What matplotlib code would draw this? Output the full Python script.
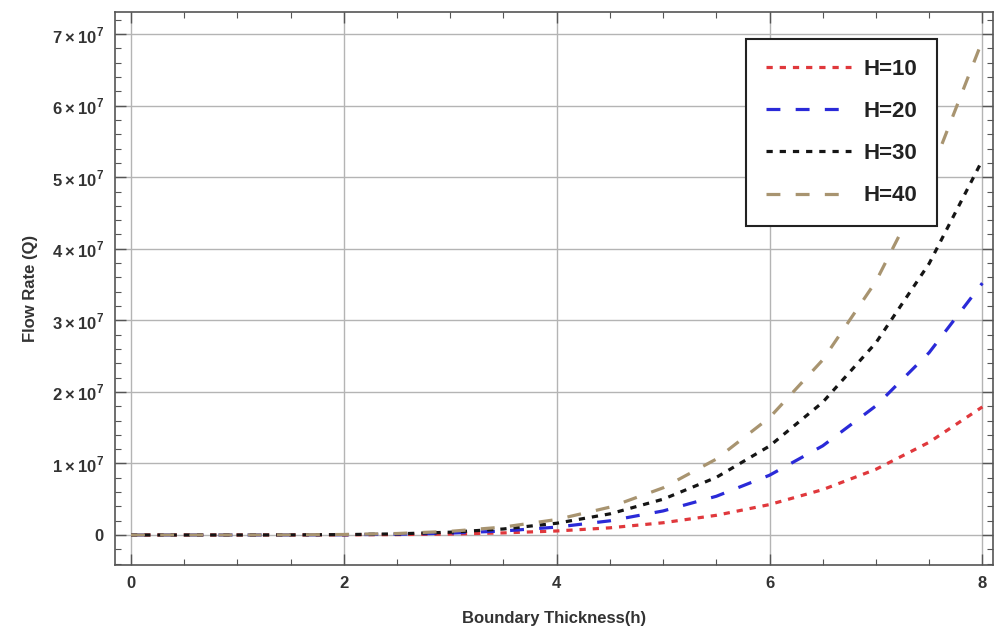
"""
Flow rate vs boundary thickness for several H values
"""

import matplotlib
matplotlib.use('Agg')
import matplotlib.pyplot as plt
from matplotlib.ticker import MultipleLocator, FuncFormatter

plt.rcParams['font.family'] = ['Liberation Sans', 'DejaVu Sans']
plt.rcParams['mathtext.fontset'] = 'custom'
plt.rcParams['mathtext.rm'] = 'Liberation Sans:bold'
plt.rcParams['mathtext.bf'] = 'Liberation Sans:bold'
plt.rcParams['lines.scale_dashes'] = False

# Boundary thickness h
h = [0, 1, 1.5, 2, 2.5, 3, 3.5, 4, 4.5, 5, 5.5, 6, 6.5, 7, 7.5, 8]

# Flow rate Q, units of 1e7
q_h10 = [0, 0.00005, 0.0004, 0.0017, 0.0053, 0.013, 0.029, 0.056, 0.10, 0.171,
         0.275, 0.425, 0.634, 0.918, 1.296, 1.79]
q_h20 = [0, 0.0001, 0.0008, 0.0034, 0.0105, 0.026, 0.056, 0.110, 0.198, 0.336,
         0.541, 0.835, 1.246, 1.805, 2.549, 3.52]
q_h30 = [0, 0.00016, 0.0012, 0.0051, 0.0156, 0.039, 0.084, 0.164, 0.295, 0.50,
         0.805, 1.243, 1.855, 2.687, 3.794, 5.24]
q_h40 = [0, 0.0002, 0.0016, 0.0067, 0.0206, 0.051, 0.111, 0.216, 0.389, 0.659,
         1.061, 1.640, 2.447, 3.545, 5.005, 6.91]

labels = ['H=10', 'H=20', 'H=30', 'H=40']
colors = ['#e0383c', '#2a2ad8', '#151515', '#a89470']
dashes = [(4.5, 5.0), (10.0, 11.0), (4.5, 5.0), (10.0, 11.0)]

fig = plt.figure(figsize=(9.96, 6.29), dpi=100)
ax = fig.add_axes([0.1155, 0.1017, 0.8815, 0.8793])

for q, lab, c, d in zip([q_h10, q_h20, q_h30, q_h40], labels, colors, dashes):
    ax.plot(h, [v * 1e7 for v in q], color=c, lw=2.3, dashes=d, label=lab)

ax.set_xlim(-0.15, 8.1)
ax.set_ylim(-0.42e7, 7.31e7)

ax.xaxis.set_major_locator(MultipleLocator(2))
ax.xaxis.set_minor_locator(MultipleLocator(0.5))
ax.yaxis.set_major_locator(MultipleLocator(1e7))
ax.yaxis.set_minor_locator(MultipleLocator(2e6))


def sci_fmt(v, pos):
    n = int(round(v / 1e7))
    if n == 0:
        return '0'
    return r'$%d\times10^{7}$' % n


ax.yaxis.set_major_formatter(FuncFormatter(sci_fmt))

ax.tick_params(which='both', direction='in', top=True, right=True,
               color='#555555', labelcolor='#333333')
ax.tick_params(which='major', length=8, width=1, labelsize=12, pad=8)
ax.tick_params(which='minor', length=4, width=0.8)
fig.canvas.draw()
for lbl in ax.get_xticklabels() + ax.get_yticklabels():
    lbl.set_fontweight('bold')

ax.grid(True, which='major', color='#b4b4b4', lw=1)
for s in ax.spines.values():
    s.set_color('#555555')
    s.set_linewidth(1.2)

ax.set_xlabel('Boundary Thickness(h)', fontsize=12, fontweight='bold',
              color='#333333', labelpad=14)
ax.set_ylabel('Flow Rate (Q)', fontsize=12, fontweight='bold',
              color='#333333', labelpad=10)

leg = ax.legend(loc='upper right', bbox_to_anchor=(0.936, 0.951),
                prop={'weight': 'bold', 'size': 16},
                handlelength=3.8, labelspacing=0.95, borderpad=0.9,
                handletextpad=0.55, borderaxespad=0, fancybox=False,
                framealpha=1)
leg.get_frame().set_edgecolor('#222222')
leg.get_frame().set_linewidth(1.5)
for t in leg.get_texts():
    t.set_color('#222222')

fig.savefig('out.png', dpi=100)
plt.close(fig)
